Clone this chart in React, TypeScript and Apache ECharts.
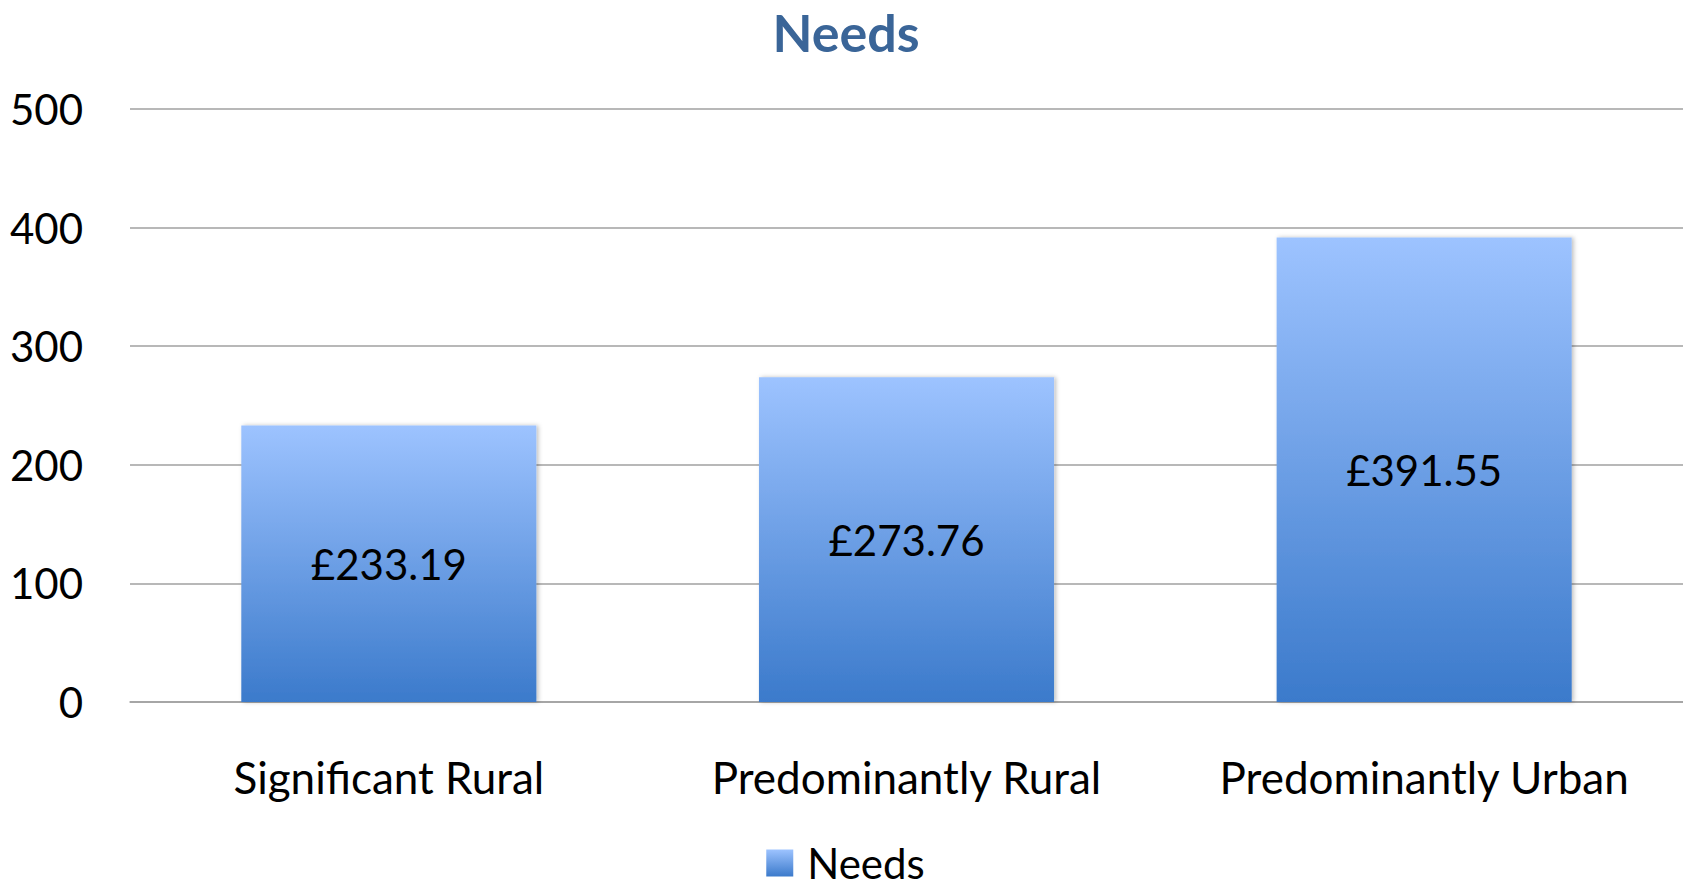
import React, { useEffect, useRef } from "react";
import * as echarts from "echarts";

const categories = ["Significant Rural", "Predominantly Rural", "Predominantly Urban"];
const needsValues = [233.19, 273.76, 391.55];
const seriesName = "Needs";
const titleText = "Needs";

const FONT = "Lato, 'Open Sans', sans-serif";

export default function App() {
  const ref = useRef<HTMLDivElement>(null);
  useEffect(() => {
    if (!ref.current) return;
    const chart = echarts.init(ref.current, null, { renderer: "svg" });
    const grad = new echarts.graphic.LinearGradient(0, 0, 0, 1, [
      { offset: 0, color: "#9DC3FF" },
      { offset: 1, color: "#3B7ACB" },
    ]);
    chart.setOption({
      animation: false,
      backgroundColor: "#ffffff",
      title: {
        text: titleText,
        left: 846,
        top: 1,
        padding: 0,
        textAlign: "center",
        textStyle: { fontFamily: FONT, fontSize: 52, lineHeight: 62, fontWeight: "bold", color: "#3A6598" },
      },
      legend: {
        data: [{ name: seriesName, icon: "rect" }],
        left: "center",
        top: 838,
        padding: 0,
        itemWidth: 27,
        itemHeight: 27,
        itemGap: 14,
        textStyle: {
          fontFamily: FONT,
          fontSize: 42,
          lineHeight: 50,
          color: "#000",
          padding: [0, 0, 0, 9],
        },
      },
      grid: { left: 130, right: 8, top: 109, bottom: 189, containLabel: false },
      xAxis: {
        type: "category",
        data: categories,
        axisLine: { show: true, lineStyle: { color: "#A0A0A0", width: 1.5 } },
        axisTick: { show: false },
        axisLabel: {
          interval: 0,
          hideOverlap: false,
          fontFamily: FONT,
          fontSize: 44,
          color: "#000",
          margin: 53,
          lineHeight: 44,
        },
      },
      yAxis: {
        type: "value",
        min: 0,
        max: 500,
        interval: 100,
        axisLine: { show: false },
        axisTick: { show: false },
        splitLine: { lineStyle: { color: "#A0A0A0", width: 1.5 } },
        axisLabel: { fontFamily: FONT, fontSize: 42, color: "#000", margin: 47 },
      },
      series: [
        {
          name: seriesName,
          type: "bar",
          data: needsValues,
          barCategoryGap: "43%",
          itemStyle: {
            color: grad,
            shadowColor: "rgba(0,0,0,0.25)",
            shadowBlur: 4,
            shadowOffsetX: 2,
          },
          label: {
            show: true,
            position: "inside",
            formatter: (p: any) => "£" + p.value.toFixed(2),
            fontFamily: FONT,
            fontSize: 42,
            color: "#000",
          },
        },
      ],
    });
    return () => chart.dispose();
  }, []);
  return <div ref={ref} style={{ width: 1691, height: 891, margin: -8 }} />;
}
